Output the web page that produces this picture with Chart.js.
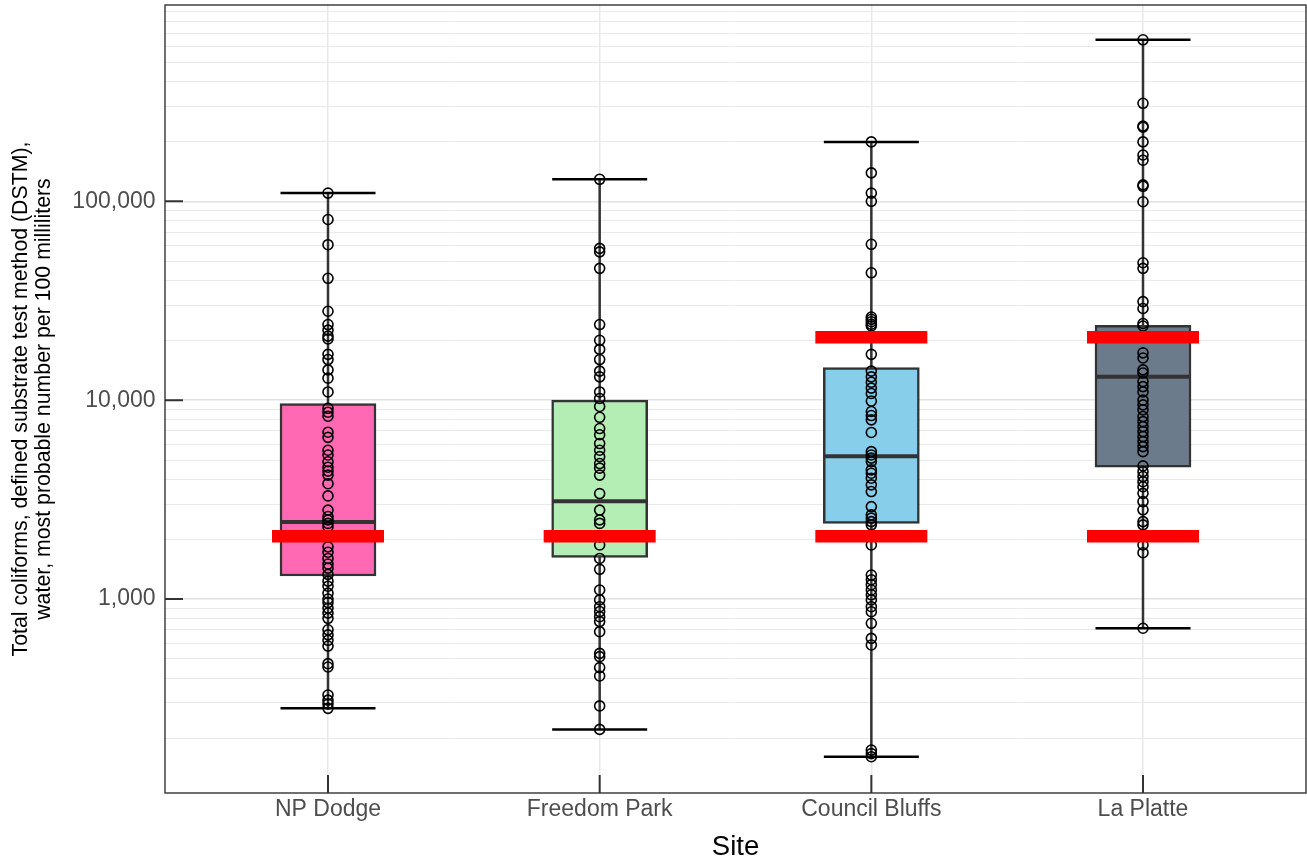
<!DOCTYPE html>
<html>
<head>
<meta charset="utf-8">
<script src="https://cdn.jsdelivr.net/npm/chart.js@4"></script>
<style>
  body { margin: 0; background: #fff; }
  canvas { display: block; }
</style>
</head>
<body>
<canvas id="chart" width="1307" height="858"></canvas>
<script>
// ---- data ----
const sites = ['NP Dodge', 'Freedom Park', 'Council Bluffs', 'La Platte'];
const boxQ1 = [1305, 1620, 2400, 4600];
const boxMedian = [2440, 3100, 5230, 13100];
const boxQ3 = [9620, 10000, 14600, 23800];
const whiskerLow = [282, 221, 161, 713];
const whiskerHigh = [110000, 129000, 199000, 649000];
const limitLow = [2070, 2070, 2070, 2070];
const limitHigh = [null, null, 20700, 20700];

const npDodge = [110000, 81000, 60500, 41000, 28000, 24000, 22500, 21000, 20300, 17000, 16000, 14200,
  12900, 11000, 9100, 8700, 8300, 6900, 6500, 5600, 5300, 4900, 4600, 4400, 4200, 3800, 3300, 2800,
  2600, 2500, 2400, 2300, 2050, 1830, 1720, 1600, 1500, 1430, 1330, 1230, 1160, 1070, 1000, 960, 900,
  850, 800, 700, 660, 620, 580, 473, 455, 329, 310, 297, 282];
const freedomPark = [129000, 58000, 55700, 46000, 24000, 20000, 18000, 16000, 14000, 13100, 11000, 10200,
  9300, 8200, 7200, 6700, 6050, 5600, 5200, 4800, 4550, 4200, 3390, 2800, 2500, 2400, 2050, 1870,
  1600, 1410, 1110, 990, 915, 865, 815, 770, 685, 533, 513, 452, 410, 290, 221];
const councilBluffs = [199000, 139000, 110000, 100000, 60800, 43700, 26200, 25500, 24800, 24100, 23600,
  17000, 14000, 13100, 12300, 11500, 10800, 9900, 8770, 8370, 7960, 6880, 5510, 5300, 5110, 4910,
  4460, 4290, 4050, 3750, 3470, 2915, 2650, 2550, 2450, 2360, 2070, 1870, 1320, 1250, 1180, 1110, 1050,
  990, 915, 863, 755, 634, 587, 174, 167, 161];
const laPlatte = [649000, 311000, 239000, 236000, 199000, 171000, 161000, 121000, 119000, 99500, 49100,
  46000, 31300, 28900, 24300, 23600, 17300, 16300, 14200, 13700, 12400, 11700, 11000, 10000, 9470,
  8940, 8270, 7800, 7360, 6950, 6560, 6190, 5840, 5510, 4670, 4370, 4130, 3890, 3670, 3400, 3090,
  2810, 2450, 2360, 2070, 1870, 1710, 713];
const siteValues = [npDodge, freedomPark, councilBluffs, laPlatte];

const majorTicks = [1000, 10000, 100000];
const gridTicks = [200, 300, 400, 500, 600, 700, 800, 900,
  1000, 2000, 3000, 4000, 5000, 6000, 7000, 8000, 9000,
  10000, 20000, 30000, 40000, 50000, 60000, 70000, 80000, 90000,
  100000, 200000, 300000, 400000, 500000, 600000, 700000, 800000, 900000];

const boxColors = ['#FF69B4', '#B4EEB4', '#87CEEB', '#6C7B8B'];

Chart.defaults.font.family = '"Liberation Sans", Arial, sans-serif';

// panel border + inward tick marks, like the ggplot theme
const panelPlugin = {
  id: 'panel',
  afterDraw(chart) {
    const { ctx, chartArea: a, scales: { x, y } } = chart;
    ctx.save();
    ctx.strokeStyle = '#333333';
    ctx.lineWidth = 2;
    ctx.beginPath();
    majorTicks.forEach(v => {
      const py = y.getPixelForValue(v);
      ctx.moveTo(a.left, py);
      ctx.lineTo(a.left + 18, py);
    });
    sites.forEach((s, i) => {
      const px = x.getPixelForValue(i + 1);
      ctx.moveTo(px, a.bottom);
      ctx.lineTo(px, a.bottom - 18);
    });
    ctx.stroke();
    ctx.lineWidth = 1.4;
    ctx.strokeRect(a.left, a.top, a.right - a.left, a.bottom - a.top);
    ctx.restore();
  }
};

const datasets = [];

// red limit lines (top)
datasets.push({
  type: 'scatter', order: 0,
  data: sites.map((s, i) => ({ x: i + 1, y: limitLow[i] }))
    .concat(sites.map((s, i) => ({ x: i + 1, y: limitHigh[i] })).filter(p => p.y !== null)),
  pointStyle: 'line', pointRadius: 56, borderWidth: 12.5, borderColor: '#FF0000', backgroundColor: '#FF0000'
});

// observations
siteValues.forEach((vals, i) => {
  datasets.push({
    type: 'scatter', order: 1,
    data: vals.map(v => ({ x: i + 1, y: v })),
    pointStyle: 'circle', pointRadius: 5, borderWidth: 1.6,
    borderColor: '#000000', backgroundColor: 'rgba(0,0,0,0)'
  });
});

// whisker caps
datasets.push({
  type: 'scatter', order: 2,
  data: sites.map((s, i) => ({ x: i + 1, y: whiskerLow[i] }))
    .concat(sites.map((s, i) => ({ x: i + 1, y: whiskerHigh[i] }))),
  pointStyle: 'line', pointRadius: 47.5, borderWidth: 2.5, borderColor: '#000000'
});

// medians
datasets.push({
  type: 'scatter', order: 3,
  data: sites.map((s, i) => ({ x: i + 1, y: boxMedian[i] })),
  pointStyle: 'line', pointRadius: 47.5, borderWidth: 4, borderColor: '#333333'
});

// boxes
datasets.push({
  type: 'bar', order: 4,
  data: sites.map((s, i) => ({ x: i + 1, y: [boxQ1[i], boxQ3[i]] })),
  backgroundColor: boxColors, borderColor: '#333333', borderWidth: 2.5,
  borderSkipped: false, barThickness: 96
});

// whiskers
sites.forEach((s, i) => {
  datasets.push({
    type: 'line', order: 5,
    data: [{ x: i + 1, y: whiskerLow[i] }, { x: i + 1, y: whiskerHigh[i] }],
    borderColor: '#333333', borderWidth: 2.5, pointRadius: 0
  });
});

new Chart(document.getElementById('chart'), {
  type: 'scatter',
  data: { datasets },
  plugins: [panelPlugin],
  options: {
    responsive: false,
    animation: false,
    layout: { autoPadding: false, padding: { top: 5, right: 1, left: 0, bottom: 0 } },
    plugins: { legend: { display: false }, tooltip: { enabled: false } },
    scales: {
      x: {
        type: 'linear', min: 0.4, max: 4.6, offset: false,
        afterBuildTicks: scale => { scale.ticks = sites.map((s, i) => ({ value: i + 1 })); },
        afterFit: scale => {
          scale.height = 65;
          scale.paddingLeft = 0;
          scale.paddingRight = 0;
        },
        grid: { offset: false, color: '#e8e8e8', lineWidth: 1.5, drawTicks: false },
        border: { display: false },
        ticks: {
          autoSkip: false, maxRotation: 0, padding: 3, color: '#4d4d4d',
          font: { size: 23 },
          callback: v => sites[v - 1]
        },
        title: {
          display: true, text: 'Site', color: '#000000',
          font: { size: 27.5, lineHeight: 0.75 }, padding: { top: 0, bottom: 0 }
        }
      },
      y: {
        type: 'logarithmic', min: 105.8, max: 971000,
        afterBuildTicks: scale => { scale.ticks = gridTicks.map(v => ({ value: v })); },
        afterFit: scale => {
          scale.width = 165;
          scale.paddingTop = 0;
          scale.paddingBottom = 0;
        },
        grid: {
          drawTicks: false,
          color: c => majorTicks.includes(c.tick.value) ? '#e2e2e2' : '#e9e9e9',
          lineWidth: c => majorTicks.includes(c.tick.value) ? 1.6 : 1
        },
        border: { display: false },
        ticks: {
          autoSkip: false, padding: 9.5, color: '#4d4d4d',
          font: { size: 23 },
          callback: v => majorTicks.includes(v) ? v.toLocaleString('en-US') : ''
        },
        title: {
          display: true, color: '#000000',
          text: ['Total coliforms, defined substrate test method (DSTM),',
                 'water, most probable number per 100 milliliters'],
          font: { size: 21.3, lineHeight: 1.1 }, padding: { top: 9, bottom: 0 }
        }
      }
    }
  }
});
</script>
</body>
</html>
